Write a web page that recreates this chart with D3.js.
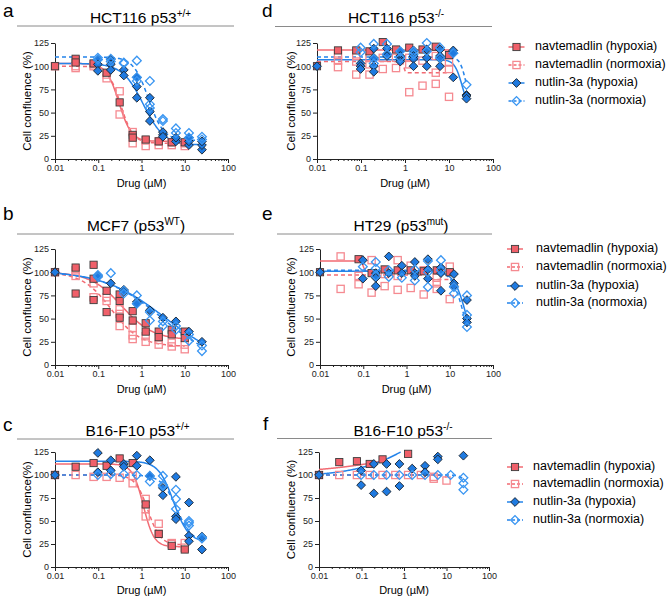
<!DOCTYPE html>
<html><head><meta charset="utf-8">
<script src="https://cdn.jsdelivr.net/npm/d3@7"></script>
<style>body{margin:0;background:#fff} svg{font-family:"Liberation Sans",Arial,Helvetica,sans-serif}</style>
</head><body><svg id="chart" width="669" height="597"></svg>
<script>
// ---------- data ----------
const navDoses = [0.01, 0.03, 0.078, 0.156, 0.3125, 0.625, 1.25, 2.5, 5, 10];
const nutDoses = [0.01, 0.098, 0.195, 0.39, 0.78, 1.56, 3.125, 6.25, 12.5, 25];
const xTickVals = [0.01, 0.1, 1, 10, 100];
const xTickLabels = ["0.01", "0.1", "1", "10", "100"];
const yTickVals = [0, 25, 50, 75, 100, 125];
const seriesNames = ["navtemadlin (hypoxia)", "navtemadlin (normoxia)", "nutlin-3a (hypoxia)", "nutlin-3a (normoxia)"];
const panelLetters = ["a", "b", "c", "d", "e", "f"];
const titleMain = ["HCT116 p53", "MCF7 (p53", "B16-F10 p53", "HCT116 p53", "HT29 (p53", "B16-F10 p53"];
const titleSup = ["+/+", "WT", "+/+", "-/-", "mut", "-/-"];
const titleTail = ["", ")", "", "", ")", ""];
const yLabels = ["Cell confluence (%)", "Cell confluence (%)", "Cell confluence(%)", "Cell confluence (%)", "Cell confluence (%)", "Cell confluence (%)"];
const xLabel = "Drug (\u00B5M)";

// replicate values per dose (navtemadlin -> navDoses, nutlin-3a -> nutDoses)
const a_navHyp = [[100],[108,104],[103],[93],[61],[26,23],[21],[19],[18],[18]];
const a_navNor = [[100],[98,100],[100,102],[87,91],[73,48],[29,17],[14,20],[19,15],[15,18],[14,17]];
const a_nutHyp = [[],[107,102,95],[107,102,96],[96,90],[78,66,88],[66,51,41],[26,29,24],[19,23],[15,19,23],[10,15,19]];
const a_nutNor = [[],[107,109],[108,105],[104,103],[106,88,84],[84,59,55],[43,41],[33,28],[28,23],[24,21]];

const b_navHyp = [[100],[105,77],[108,93,70],[80,57],[76,69,51],[58,48],[45,36],[36,30],[38,33],[36,29]];
const b_navNor = [[100],[102,96],[88,73],[73,69],[60,55,42],[40,32,28],[31,25],[27,22],[24,20],[22,17]];
const b_nutHyp = [[100],[96,95],[88],[81,79],[68,66],[59],[51],[47],[36],[25]];
const b_nutNor = [[],[97,95],[99],[80,77],[75,66],[57,48],[47,42],[42,38],[33,26],[21,15]];

const c_navHyp = [[100],[109],[113],[110],[118],[113],[68],[36],[23],[19]];
const c_navNor = [[100],[100],[98],[98],[97],[99,91],[74,63,55],[47,36],[26,25],[26,21]];
const c_nutHyp = [[100],[124,103],[116,105],[112,109],[121,110],[116,99],[86,78],[98,55,52],[70,34,28],[33,19]];
const c_nutNor = [[],[100],[101],[101],[100],[99,93],[99,89,88],[84,74,63],[50,48,45],[32,31]];

const d_navHyp = [[100],[117],[117],[116],[126],[118],[120],[118],[121],[112]];
const d_navNor = [[],[112,106,99],[111,105,91],[109,102,91],[109,97],[109,98],[109,102,72],[106,79],[111,93,81],[104,97,67]];
const d_nutHyp = [[100],[103,100,97],[119,109,100,94],[119,113,111],[116,111,107,105],[117,111,108,100],[118,109,100],[118,111,108,100],[117,114,88],[69,68,65]];
const d_nutNor = [[],[120,115],[124,108,103],[124,113],[116,109],[116,113],[125,116],[120,109],[114],[80]];

const e_navHyp = [[100],[],[114],[99],[103],[102],[102],[101],[102],[100]];
const e_navNor = [[],[117,82],[96,87],[113,78],[98,85],[113,96,81],[107,83],[102,76],[94,88,82],[106,71]];
const e_nutHyp = [[100],[113,93],[99,94,85],[117,99],[107,99],[111,99,96],[114,103,93],[105,99,80],[98,88,85],[70,50,46]];
const e_nutNor = [[],[106],[111,104,96],[102,95],[94],[103,91],[112,100,84],[113,102],[84,77],[75,54,41]];

const f_navHyp = [[100],[114],[115],[112],[117],[],[123],[],[],[]];
const f_navNor = [[100],[100],[100],[100],[100],[100],[100],[100],[98,96],[94]];
const f_nutHyp = [[100],[105,89],[112,80],[112,82],[112,88],[107],[110,103],[120,117],[],[121]];
const f_nutNor = [[],[100],[100],[100],[100],[100],[100],[100],[100],[97,91,84]];

// fitted 4-parameter logistic curves: [top, bottom, IC50, hill, last dose]
const a_fits = [[103,19,0.30,3,10],[100,17,0.33,3,10],[103,15,1.1,1.8,25],[110,20,1.45,2.5,25]];
const b_fits = [[100,27,0.35,1.2,10],[100,20,0.2,1.3,10],[102,0,3.5,0.6,25],[101,0,3,0.65,25]];
const c_fits = [[112,22,1.1,3.5,10],[100,24,1.4,3,10],[115,27,5.5,2.5,25],[100,27,6.5,2.5,25]];
const d_fits = [[117.5,117.5,1,1,10],[105,93,0.95,30,10],[107,50,20,5,25],[110,50,25,6,25]];
const e_fits = [[112,101,0.1,20,10],[97,92,3.5,20,10],[101,0,25,3,25],[102,0,22,3,25]];
const f_fits = [[200,100,95.5,-0.3,0.31],[100,90,12,6,10],[200,98,5.16,-0.56,0.83],[100,80,30,6,25]];

// ---------- layout / style ----------
const layout = [
  {x0:55, x1:228, yb:159, yt:43, tx:140.5, ty:22.5, line:[17,234], ly:26, lx:3, lby:17, labx:28, xlaby:187},
  {x0:55, x1:228, yb:365, yt:249, tx:136, ty:230.5, line:[17,234], ly:234, lx:3, lby:220, labx:28, xlaby:393},
  {x0:55, x1:228, yb:567, yt:452, tx:137.5, ty:435.5, line:[17,234], ly:439, lx:3, lby:431, labx:28, xlaby:594},
  {x0:317, x1:493, yb:159, yt:43, tx:396, ty:22.5, line:[275,492], ly:26.5, lx:262, lby:17, labx:292, xlaby:187, leg:{mx:516.5, tx:535, ys:[47,65,83,101]}},
  {x0:320, x1:493, yb:365, yt:249, tx:401, ty:230.5, line:[277,492], ly:234, lx:262, lby:220, labx:292, xlaby:393, leg:{mx:515, tx:536, ys:[249,267,286,303]}},
  {x0:319, x1:489, yb:567, yt:452, tx:403, ty:435.5, line:[277,492], ly:438.5, lx:263, lby:430, labx:292, xlaby:594, leg:{mx:515, tx:533, ys:[467,484,502,520]}}
];
const panelSeries = [
  [a_navHyp,a_navNor,a_nutHyp,a_nutNor],
  [b_navHyp,b_navNor,b_nutHyp,b_nutNor],
  [c_navHyp,c_navNor,c_nutHyp,c_nutNor],
  [d_navHyp,d_navNor,d_nutHyp,d_nutNor],
  [e_navHyp,e_navNor,e_nutHyp,e_nutNor],
  [f_navHyp,f_navNor,f_nutHyp,f_nutNor]
];
const panelFits = [a_fits,b_fits,c_fits,d_fits,e_fits,f_fits];

const RED_FILL = "#f0606a", RED_LINE = "#f26b73", RED_OPEN = "#f58a91";
const BLUE_FILL = "#1f7ae0", BLUE_LINE = "#2584ea", BLUE_OPEN = "#3a96f2";
const styles = [
  {shape:"square",  fill:RED_FILL,  stroke:"#3b3b3b", sw:0.9, line:RED_LINE,  dash:null},
  {shape:"square",  fill:"none",    stroke:RED_OPEN,  sw:1.3, line:RED_LINE,  dash:"4,3"},
  {shape:"diamond", fill:BLUE_FILL, stroke:"#1b2733", sw:0.9, line:BLUE_LINE, dash:null},
  {shape:"diamond", fill:"none",    stroke:BLUE_OPEN, sw:1.3, line:BLUE_LINE, dash:"4,3"}
];
const drawOrder = [1, 0, 2, 3];

const svg = d3.select("#chart");

function marker(g, st, cx, cy) {
  if (st.shape === "square") {
    g.append("rect").attr("x", cx - 3.6).attr("y", cy - 3.6).attr("width", 7.2).attr("height", 7.2)
      .attr("fill", st.fill).attr("stroke", st.stroke).attr("stroke-width", st.sw);
  } else {
    g.append("rect").attr("x", -3.1).attr("y", -3.1).attr("width", 6.2).attr("height", 6.2)
      .attr("transform", `translate(${cx},${cy}) rotate(45)`)
      .attr("fill", st.fill).attr("stroke", st.stroke).attr("stroke-width", st.sw);
  }
}

function logistic(p, xv) {
  const [top, bottom, ic50, hill] = p;
  return bottom + (top - bottom) / (1 + Math.pow(xv / ic50, hill));
}

layout.forEach((L, pi) => {
  const g = svg.append("g");
  const x = d3.scaleLog().domain([0.01, 100]).range([L.x0, L.x1]);
  const y = d3.scaleLinear().domain([0, 125]).range([L.yb, L.yt]);

  // panel letter
  g.append("text").attr("x", L.lx).attr("y", L.lby).attr("font-size", 19).text(panelLetters[pi]);
  // title with superscript
  const t = g.append("text").attr("x", L.tx).attr("y", L.ty).attr("text-anchor", "middle").attr("font-size", 15.5);
  t.append("tspan").text(titleMain[pi]);
  t.append("tspan").attr("font-size", 10).attr("dy", -6).text(titleSup[pi]);
  if (titleTail[pi]) t.append("tspan").attr("dy", 6).text(titleTail[pi]);
  g.append("line").attr("x1", L.line[0]).attr("x2", L.line[1]).attr("y1", L.ly).attr("y2", L.ly)
    .attr("stroke", "#8a8a8a").attr("stroke-width", 1);

  // axes
  const xa = g.append("g").attr("transform", `translate(0,${L.yb})`)
    .call(d3.axisBottom(x).tickValues(xTickVals).tickFormat((d, i) => xTickLabels[i]).tickSize(4).tickSizeOuter(0).tickPadding(2));
  const minor = [];
  [0.01, 0.1, 1, 10].forEach(dec => { for (let k = 2; k <= 9; k++) minor.push(dec * k); });
  g.append("g").attr("transform", `translate(0,${L.yb})`)
    .call(d3.axisBottom(x).tickValues(minor).tickFormat("").tickSize(2).tickSizeOuter(0))
    .select(".domain").remove();
  const ya = g.append("g").attr("transform", `translate(${L.x0},0)`)
    .call(d3.axisLeft(y).tickValues(yTickVals).tickSize(4).tickSizeOuter(0).tickPadding(2));
  g.selectAll(".tick text").attr("font-size", 9).attr("font-family", "'Liberation Sans', Arial, sans-serif").attr("fill", "#222");
  g.selectAll(".domain, .tick line").attr("stroke", "#222");

  // axis titles
  g.append("text").attr("transform", `translate(${L.labx},${(L.yb + L.yt) / 2}) rotate(-90)`)
    .attr("text-anchor", "middle").attr("dominant-baseline", "middle").attr("font-size", 11.5).text(yLabels[pi]);
  g.append("text").attr("x", (L.x0 + L.x1) / 2).attr("y", L.xlaby).attr("text-anchor", "middle")
    .attr("font-size", 11).text(xLabel);

  // curves
  const lineGen = d3.line().x(d => x(d[0])).y(d => y(d[1]));
  panelFits[pi].forEach((p, si) => {
    const xmax = p[4];
    const n = 160;
    const lo = Math.log10(0.01), hi = Math.log10(xmax);
    const pts = d3.range(n + 1).map(i => { const xv = Math.pow(10, lo + (hi - lo) * i / n); return [xv, logistic(p, xv)]; });
    const st = styles[si];
    g.append("path").attr("d", lineGen(pts)).attr("fill", "none").attr("stroke", st.line)
      .attr("stroke-width", 1.5).attr("stroke-dasharray", st.dash);
  });

  // points
  drawOrder.forEach(si => {
    const doses = si < 2 ? navDoses : nutDoses;
    const st = styles[si];
    panelSeries[pi][si].forEach((vals, di) => {
      vals.forEach(v => marker(g, st, x(doses[di]), y(v)));
    });
  });

  // legend
  if (L.leg) {
    seriesNames.forEach((name, si) => {
      const st = styles[si];
      const yy = L.leg.ys[si];
      g.append("line").attr("x1", L.leg.mx - 8).attr("x2", L.leg.mx + 8).attr("y1", yy).attr("y2", yy)
        .attr("stroke", st.line).attr("stroke-width", 1.5).attr("stroke-dasharray", st.dash ? "3,2" : null);
      marker(g, st, L.leg.mx, yy);
      g.append("text").attr("x", L.leg.tx).attr("y", yy).attr("dominant-baseline", "middle")
        .attr("font-size", 12.5).text(name);
    });
  }
});
</script></body></html>
